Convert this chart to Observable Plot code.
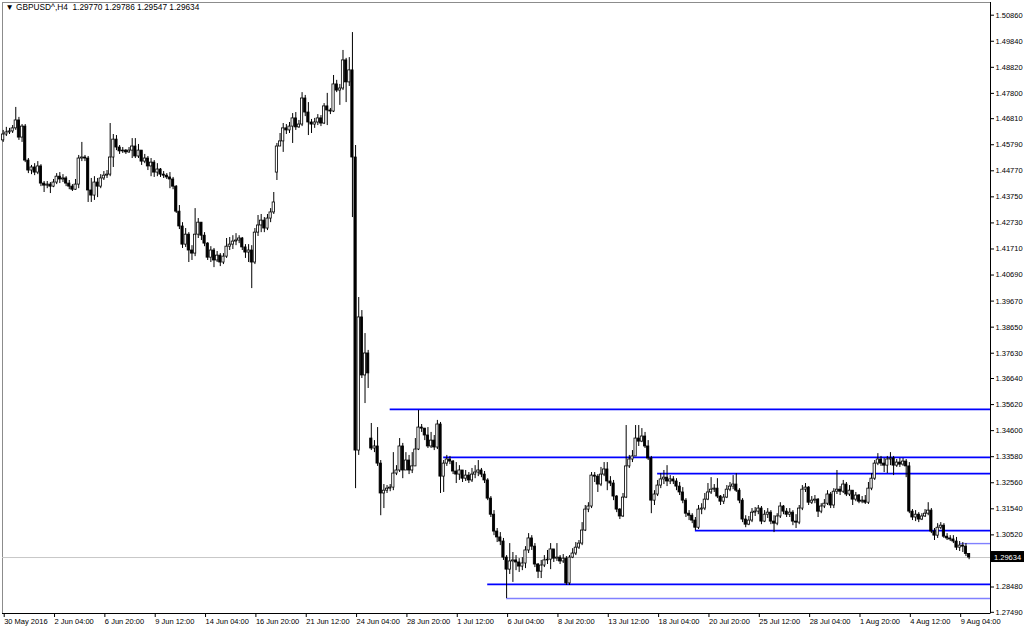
<!DOCTYPE html>
<html><head><meta charset="utf-8">
<script src="https://cdn.jsdelivr.net/npm/d3@7"></script>
<script src="https://cdn.jsdelivr.net/npm/@observablehq/plot@0.6"></script>
<style>
html,body{margin:0;padding:0;background:#fff;overflow:hidden;}
#chart svg{display:block;}
</style></head><body><div id="chart"></div>
<script>
const symbolTitle = "\u25BC GBPUSD^,H4  1.29770 1.29786 1.29547 1.29634";

const closes = [
1.4619,1.4627,1.4631,1.4643,1.4674,1.4607,1.4650,1.4517,1.4478,1.4490,
1.4470,1.4494,1.4427,1.4419,1.4423,1.4415,1.4431,1.4454,1.4443,1.4447,
1.4427,1.4415,1.4403,1.4423,1.4525,1.4529,1.4525,1.4400,1.4380,1.4431,
1.4415,1.4447,1.4458,1.4462,1.4529,1.4599,1.4568,1.4553,1.4556,1.4549,
1.4556,1.4572,1.4533,1.4556,1.4513,1.4525,1.4494,1.4509,1.4470,1.4482,
1.4462,1.4458,1.4451,1.4443,1.4415,1.4317,1.4259,1.4188,1.4227,1.4165,
1.4153,1.4227,1.4274,1.4223,1.4192,1.4137,1.4165,1.4126,1.4145,1.4118,
1.4141,1.4180,1.4188,1.4200,1.4204,1.4212,1.4177,1.4157,1.4165,1.4118,
1.4235,1.4263,1.4282,1.4251,1.4290,1.4314,1.4353,1.4572,1.4592,1.4643,
1.4635,1.4650,1.4682,1.4647,1.4658,1.4760,1.4705,1.4666,1.4658,1.4666,
1.4682,1.4662,1.4729,1.4713,1.4709,1.4815,1.4791,1.4799,1.4909,1.4823,
1.4870,1.4529,1.3382,1.3903,1.3676,1.3762,1.3684,1.3390,1.3398,1.3331,
1.3214,1.3225,1.3233,1.3237,1.3292,1.3304,1.3398,1.3304,1.3343,1.3304,
1.3320,1.3386,1.3472,1.3468,1.3441,1.3398,1.3421,1.3394,1.3484,1.3280,
1.3331,1.3347,1.3339,1.3300,1.3288,1.3304,1.3272,1.3284,1.3265,1.3288,
1.3296,1.3304,1.3288,1.3265,1.3194,1.3131,1.3065,1.3042,1.3026,1.2963,
1.2916,1.2948,1.2952,1.2944,1.2928,1.2940,1.2991,1.3038,1.3006,1.2936,
1.2908,1.2932,1.2952,1.2955,1.2995,1.2959,1.2963,1.2948,1.2959,1.2862,
1.2963,1.2979,1.3002,1.3018,1.3069,1.3151,1.3163,1.3284,1.3280,1.3249,
1.3288,1.3308,1.3261,1.3253,1.3202,1.3151,1.3124,1.3198,1.3320,1.3347,
1.3359,1.3429,1.3417,1.3437,1.3398,1.3351,1.3186,1.3210,1.3245,1.3269,
1.3276,1.3261,1.3269,1.3261,1.3241,1.3218,1.3186,1.3135,1.3127,1.3108,
1.3080,1.3151,1.3155,1.3190,1.3218,1.3229,1.3233,1.3202,1.3182,1.3198,
1.3229,1.3241,1.3249,1.3225,1.3186,1.3112,1.3092,1.3108,1.3139,1.3143,
1.3155,1.3104,1.3131,1.3139,1.3104,1.3096,1.3124,1.3163,1.3143,1.3131,
1.3139,1.3104,1.3100,1.3155,1.3229,1.3237,1.3178,1.3186,1.3190,1.3143,
1.3163,1.3174,1.3210,1.3167,1.3221,1.3229,1.3221,1.3249,1.3210,1.3225,
1.3190,1.3206,1.3182,1.3186,1.3178,1.3233,1.3272,1.3331,1.3347,1.3331,
1.3323,1.3347,1.3351,1.3323,1.3335,1.3327,1.3339,1.3320,1.3143,1.3120,
1.3131,1.3112,1.3124,1.3135,1.3147,1.3065,1.3049,1.3080,1.3088,1.3045,
1.3038,1.3034,1.3026,1.3002,1.3010,1.3006,1.2977,1.29634];

const highs = [
1.4635,1.4647,1.4643,1.4654,1.4725,1.4686,1.4658,1.4658,1.4525,1.4498,
1.4505,1.4513,1.4501,1.4435,1.4435,1.4431,1.4443,1.4466,1.4470,1.4462,
1.4454,1.4439,1.4423,1.4443,1.4537,1.4588,1.4537,1.4533,1.4447,1.4454,
1.4447,1.4462,1.4474,1.4478,1.4662,1.4619,1.4615,1.4576,1.4568,1.4560,
1.4568,1.4603,1.4603,1.4580,1.4556,1.4541,1.4533,1.4525,1.4517,1.4505,
1.4486,1.4474,1.4466,1.4470,1.4451,1.4419,1.4341,1.4274,1.4251,1.4235,
1.4184,1.4329,1.4290,1.4274,1.4235,1.4196,1.4180,1.4173,1.4161,1.4153,
1.4153,1.4212,1.4216,1.4223,1.4231,1.4223,1.4216,1.4188,1.4188,1.4184,
1.4251,1.4302,1.4306,1.4294,1.4306,1.4329,1.4392,1.4584,1.4623,1.4662,
1.4658,1.4666,1.4701,1.4705,1.4674,1.4783,1.4772,1.4744,1.4678,1.4682,
1.4697,1.4693,1.4740,1.4780,1.4721,1.4850,1.4831,1.4815,1.4948,1.4917,
1.4920,1.5018,1.4576,1.3981,1.3930,1.3840,1.3774,1.3488,1.3421,1.3472,
1.3343,1.3249,1.3245,1.3249,1.3374,1.3323,1.3429,1.3410,1.3374,1.3363,
1.3374,1.3429,1.3539,1.3484,1.3468,1.3472,1.3453,1.3441,1.3500,1.3492,
1.3343,1.3363,1.3359,1.3343,1.3335,1.3323,1.3304,1.3304,1.3296,1.3312,
1.3323,1.3343,1.3312,1.3300,1.3272,1.3202,1.3147,1.3077,1.3061,1.3038,
1.2971,1.3018,1.2983,1.2971,1.2959,1.2963,1.3006,1.3057,1.3049,1.3018,
1.2940,1.2952,1.2971,1.2991,1.3018,1.2991,1.3018,1.2971,1.2975,1.2967,
1.2971,1.2998,1.3022,1.3030,1.3100,1.3167,1.3178,1.3296,1.3296,1.3288,
1.3316,1.3335,1.3335,1.3280,1.3265,1.3206,1.3155,1.3214,1.3480,1.3363,
1.3382,1.3480,1.3480,1.3468,1.3453,1.3421,1.3359,1.3225,1.3265,1.3292,
1.3304,1.3323,1.3284,1.3280,1.3272,1.3257,1.3237,1.3194,1.3147,1.3135,
1.3120,1.3167,1.3174,1.3214,1.3253,1.3276,1.3249,1.3272,1.3206,1.3210,
1.3245,1.3257,1.3284,1.3292,1.3233,1.3194,1.3127,1.3124,1.3155,1.3159,
1.3167,1.3163,1.3147,1.3155,1.3147,1.3127,1.3135,1.3178,1.3167,1.3155,
1.3155,1.3147,1.3131,1.3167,1.3245,1.3253,1.3241,1.3202,1.3206,1.3194,
1.3174,1.3190,1.3225,1.3218,1.3233,1.3304,1.3241,1.3265,1.3257,1.3245,
1.3225,1.3218,1.3210,1.3202,1.3206,1.3257,1.3292,1.3343,1.3370,1.3359,
1.3351,1.3359,1.3374,1.3359,1.3347,1.3351,1.3351,1.3347,1.3335,1.3151,
1.3147,1.3139,1.3135,1.3151,1.3178,1.3155,1.3077,1.3096,1.3100,1.3096,
1.3057,1.3049,1.3049,1.3042,1.3026,1.3022,1.3018,1.29786];

const lows = [
1.4588,1.4611,1.4619,1.4623,1.4635,1.4596,1.4588,1.4509,1.4466,1.4462,
1.4458,1.4462,1.4415,1.4392,1.4407,1.4388,1.4411,1.4423,1.4427,1.4431,
1.4415,1.4403,1.4396,1.4400,1.4407,1.4513,1.4513,1.4353,1.4353,1.4361,
1.4372,1.4407,1.4439,1.4447,1.4454,1.4490,1.4556,1.4541,1.4545,1.4541,
1.4545,1.4525,1.4525,1.4525,1.4498,1.4505,1.4478,1.4454,1.4451,1.4454,
1.4451,1.4447,1.4443,1.4407,1.4403,1.4310,1.4247,1.4173,1.4177,1.4118,
1.4126,1.4141,1.4212,1.4204,1.4180,1.4126,1.4118,1.4098,1.4118,1.4102,
1.4110,1.4134,1.4165,1.4169,1.4184,1.4192,1.4165,1.4134,1.4118,1.4016,
1.4110,1.4220,1.4235,1.4235,1.4243,1.4274,1.4306,1.4439,1.4572,1.4549,
1.4619,1.4623,1.4584,1.4635,1.4643,1.4650,1.4689,1.4615,1.4623,1.4643,
1.4654,1.4650,1.4658,1.4654,1.4697,1.4705,1.4783,1.4733,1.4791,1.4744,
1.4807,1.4294,1.3233,1.3363,1.3664,1.3566,1.3625,1.3382,1.3374,1.3320,
1.3127,1.3155,1.3214,1.3221,1.3225,1.3284,1.3296,1.3272,1.3304,1.3288,
1.3292,1.3323,1.3382,1.3453,1.3421,1.3390,1.3390,1.3382,1.3386,1.3214,
1.3218,1.3320,1.3327,1.3288,1.3253,1.3265,1.3257,1.3261,1.3253,1.3257,
1.3272,1.3280,1.3276,1.3253,1.3186,1.3120,1.3049,1.3022,1.3010,1.2952,
1.2803,1.2897,1.2866,1.2912,1.2905,1.2912,1.2920,1.2979,1.2991,1.2924,
1.2881,1.2881,1.2924,1.2936,1.2916,1.2944,1.2948,1.2936,1.2940,1.2854,
1.2854,1.2959,1.2971,1.2995,1.3010,1.3065,1.3139,1.3155,1.3257,1.3218,
1.3241,1.3280,1.3225,1.3241,1.3186,1.3139,1.3112,1.3120,1.3194,1.3312,
1.3335,1.3359,1.3398,1.3413,1.3390,1.3343,1.3135,1.3167,1.3202,1.3233,
1.3249,1.3241,1.3249,1.3249,1.3225,1.3206,1.3174,1.3120,1.3108,1.3096,
1.3069,1.3073,1.3131,1.3147,1.3186,1.3210,1.3218,1.3194,1.3167,1.3171,
1.3194,1.3221,1.3229,1.3218,1.3174,1.3100,1.3080,1.3088,1.3100,1.3124,
1.3131,1.3092,1.3100,1.3116,1.3092,1.3061,1.3088,1.3116,1.3131,1.3120,
1.3120,1.3088,1.3077,1.3092,1.3147,1.3218,1.3167,1.3171,1.3174,1.3120,
1.3135,1.3155,1.3167,1.3155,1.3155,1.3210,1.3206,1.3214,1.3202,1.3202,
1.3167,1.3182,1.3174,1.3174,1.3171,1.3171,1.3225,1.3265,1.3323,1.3320,
1.3296,1.3292,1.3323,1.3284,1.3316,1.3316,1.3320,1.3276,1.3135,1.3108,
1.3104,1.3100,1.3108,1.3120,1.3127,1.3057,1.3030,1.3038,1.3073,1.3038,
1.3030,1.3026,1.3018,1.2991,1.2987,1.2983,1.2967,1.29547];

// opens that differ from the previous close (first bar and weekend gaps)
const gapOpens = {0: 1.4596, 87: 1.4470, 117: 1.3429};

const priceTicks = [1.50860,1.49840,1.48820,1.47800,1.46810,1.45790,1.44770,1.43750,
  1.42730,1.41710,1.40690,1.39670,1.38650,1.37630,1.36640,1.35620,1.34600,1.33580,
  1.32560,1.31540,1.30520,1.29500,1.28480,1.27490];
// the 1.29500 label sits under the current-price marker
const hiddenPriceTick = 1.29500;

const timeTickBars = [0,16,32,48,64,80,96,112,128,144,160,176,192,208,224,240,256,272,288,304];
const timeTickLabels = ["30 May 2016","2 Jun 04:00","6 Jun 20:00","9 Jun 12:00","14 Jun 04:00",
  "16 Jun 20:00","21 Jun 12:00","24 Jun 04:00","28 Jun 20:00","1 Jul 12:00","6 Jul 04:00",
  "8 Jul 20:00","13 Jul 12:00","18 Jul 04:00","20 Jul 20:00","25 Jul 12:00","28 Jul 04:00",
  "1 Aug 20:00","4 Aug 12:00","9 Aug 04:00"];

const levelPrices = [1.3543, 1.3355, 1.3292, 1.3069, 1.2858];
const levelStartBars = [123, 140, 208, 220, 154];
const lightLevelPrices = [1.2803, 1.3018];
const lightLevelStartBars = [160, 304];
const currentPrice = 1.29634;

const xDomain = [-0.22, 313.8];
const yDomain = [1.27443, 1.51357];

const bars = closes.map((c, i) => ({
  i,
  open: (i in gapOpens) ? gapOpens[i] : closes[i - 1],
  high: highs[i], low: lows[i], close: c
}));
const levels = levelPrices.map((p, k) => ({price: p, start: levelStartBars[k], end: xDomain[1]}));
const lightLevels = lightLevelPrices.map((p, k) => ({price: p, start: lightLevelStartBars[k], end: xDomain[1]}));

const FONT = "'Liberation Sans', Arial, sans-serif";

const chart = Plot.plot({
  width: 1024, height: 630,
  marginLeft: 2, marginRight: 34, marginTop: 2, marginBottom: 17,
  style: {fontFamily: FONT, fontSize: "7.5px", background: "#fff", color: "#000", overflow: "visible"},
  x: {domain: xDomain, axis: null},
  y: {domain: yDomain, axis: null},
  marks: [
    Plot.frame({stroke: "#8c8c8c"}),
    Plot.ruleY([currentPrice], {stroke: "#c8c8c8", strokeWidth: 1}),
    Plot.ruleY(lightLevels, {y: "price", x1: "start", x2: "end", stroke: "#8080ff", strokeWidth: 1.4}),
    Plot.ruleY(levels, {y: "price", x1: "start", x2: "end", stroke: "#0000ff", strokeWidth: 1.7}),
    Plot.ruleX(bars, {x: "i", y1: "low", y2: "high", stroke: "#000", strokeWidth: 1}),
    Plot.rect(bars, {
      x1: d => d.i - 0.36, x2: d => d.i + 0.36, y1: "open", y2: "close",
      fill: d => d.close >= d.open ? "#fff" : "#000", stroke: "#000", strokeWidth: 0.8
    }),
    Plot.ruleX([xDomain[1]], {stroke: "#000", strokeWidth: 1}),
    Plot.ruleY([yDomain[0]], {stroke: "#000", strokeWidth: 1}),
    Plot.axisY({anchor: "right", ticks: priceTicks,
      tickFormat: d => d === hiddenPriceTick ? "" : d.toFixed(5),
      tickSize: 3, tickPadding: 2, fontSize: 7.5, stroke: "#000"}),
    Plot.axisX({anchor: "bottom", ticks: timeTickBars,
      tickFormat: d => timeTickLabels[timeTickBars.indexOf(d)],
      tickSize: 4, tickPadding: 1, textAnchor: "start", dx: 1, fontSize: 7.5, stroke: "#000"}),
    Plot.text([symbolTitle], {frameAnchor: "top-left", dx: 3, dy: 2, lineAnchor: "top",
      fontSize: 8.3, fill: "#000"})
  ]
});

document.getElementById("chart").appendChild(chart);

// current price marker in the right margin, positioned via Plot's y scale
const yPos = chart.scale("y").apply(currentPrice);
const svg = d3.select(chart);
const g = svg.append("g");
g.append("rect").attr("x", 991).attr("y", yPos - 6).attr("width", 33).attr("height", 11).attr("fill", "#000");
g.append("text").attr("x", 994).attr("y", yPos + 3).attr("fill", "#fff")
  .attr("text-anchor", "start")
  .attr("font-family", FONT).attr("font-size", 7.5).text(currentPrice.toFixed(5));
</script>
</body></html>
